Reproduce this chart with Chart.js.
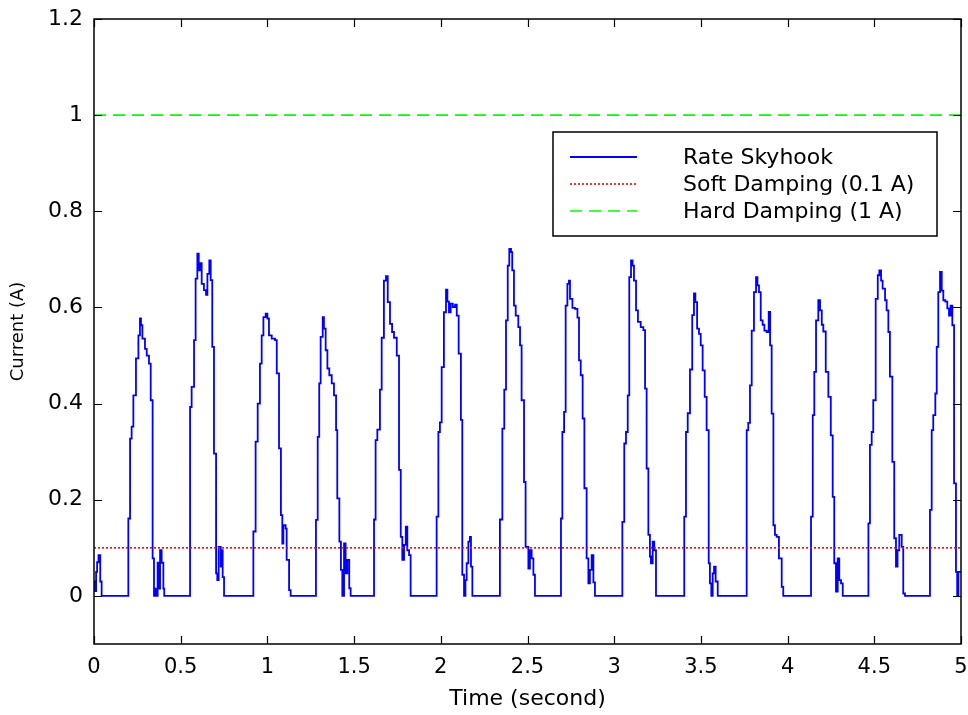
<!DOCTYPE html>
<html>
<head>
<meta charset="utf-8">
<script src="https://cdn.jsdelivr.net/npm/chart.js@4.4.1/dist/chart.umd.min.js"></script>
<style>
  body { margin: 0; background: #fff; }
  canvas { display: block; }
</style>
</head>
<body>
<canvas id="currentChart" width="968" height="715"></canvas>
<script>
// Rate skyhook control current (stairs)
const timeS = [
  0, 0.006, 0.012, 0.018, 0.026, 0.036, 0.044,
  0.198, 0.208, 0.217, 0.227, 0.242, 0.256, 0.265, 0.271, 0.279, 0.294, 0.304, 0.317, 0.327, 0.338, 0.346, 0.352, 0.361, 0.367, 0.375, 0.381, 0.390, 0.400, 0.405,
  0.554, 0.563, 0.577, 0.586, 0.596, 0.604, 0.611, 0.621, 0.634, 0.646, 0.654, 0.665, 0.673, 0.682, 0.692, 0.704, 0.711, 0.719, 0.731, 0.736, 0.742, 0.750,
  0.919, 0.932, 0.944, 0.957, 0.967, 0.977, 0.990, 1.000, 1.009, 1.025, 1.044, 1.054, 1.067, 1.078, 1.086, 1.092, 1.105, 1.111, 1.125, 1.134,
  1.280, 1.290, 1.299, 1.307, 1.319, 1.326, 1.336, 1.346, 1.357, 1.371, 1.384, 1.396, 1.403, 1.415, 1.424, 1.432, 1.442, 1.451, 1.461, 1.472, 1.480,
  1.615, 1.624, 1.634, 1.649, 1.659, 1.672, 1.684, 1.694, 1.707, 1.719, 1.730, 1.746, 1.759, 1.769, 1.778, 1.788, 1.798, 1.807, 1.817, 1.826,
  1.976, 1.986, 1.995, 2.005, 2.018, 2.030, 2.038, 2.047, 2.057, 2.069, 2.082, 2.092, 2.103, 2.116, 2.124, 2.134, 2.142, 2.149, 2.159, 2.168, 2.174, 2.182,
  2.341, 2.355, 2.366, 2.376, 2.386, 2.395, 2.405, 2.412, 2.422, 2.432, 2.447, 2.457, 2.466, 2.480, 2.489, 2.505, 2.514, 2.524, 2.534, 2.543,
  2.693, 2.701, 2.711, 2.720, 2.730, 2.739, 2.745, 2.759, 2.774, 2.788, 2.797, 2.807, 2.818, 2.828, 2.841, 2.851, 2.860, 2.870, 2.880, 2.889,
  3.047, 3.058, 3.068, 3.078, 3.087, 3.097, 3.106, 3.114, 3.126, 3.137, 3.153, 3.168, 3.178, 3.187, 3.197, 3.206, 3.212, 3.222, 3.231, 3.241,
  3.404, 3.414, 3.424, 3.437, 3.450, 3.460, 3.468, 3.478, 3.489, 3.499, 3.510, 3.522, 3.533, 3.545, 3.552, 3.560, 3.568, 3.576, 3.585, 3.597,
  3.764, 3.773, 3.783, 3.793, 3.806, 3.818, 3.826, 3.835, 3.845, 3.856, 3.866, 3.879, 3.891, 3.899, 3.908, 3.918, 3.927, 3.937, 3.950, 3.966, 3.975,
  4.135, 4.145, 4.154, 4.164, 4.177, 4.187, 4.197, 4.206, 4.220, 4.235, 4.249, 4.260, 4.269, 4.279, 4.289, 4.298, 4.308, 4.318,
  4.466, 4.475, 4.485, 4.494, 4.508, 4.520, 4.529, 4.539, 4.548, 4.562, 4.571, 4.581, 4.590, 4.604, 4.615, 4.625, 4.634, 4.644, 4.658, 4.667, 4.677,
  4.821, 4.831, 4.840, 4.852, 4.860, 4.869, 4.879, 4.889, 4.898, 4.910, 4.921, 4.931, 4.940, 4.950, 4.960, 4.971, 4.978, 4.985, 5.000
];
const currentA = [
  0.03, 0.01, 0.05, 0.07, 0.085, 0.03, 0,
  0.161, 0.327, 0.352, 0.417, 0.494, 0.542, 0.577, 0.563, 0.535, 0.514, 0.500, 0.483, 0.407, 0.078, 0, 0.015, 0, 0.069, 0.015, 0.095, 0.069, 0.015, 0,
  0.393, 0.435, 0.532, 0.660, 0.712, 0.677, 0.692, 0.649, 0.636, 0.626, 0.670, 0.698, 0.657, 0.518, 0.296, 0.047, 0.033, 0.102, 0.061, 0.095, 0.039, 0,
  0.134, 0.321, 0.400, 0.483, 0.542, 0.580, 0.587, 0.577, 0.542, 0.535, 0.532, 0.463, 0.307, 0.168, 0.109, 0.147, 0.140, 0.075, 0.012, 0,
  0.158, 0.331, 0.442, 0.539, 0.580, 0.556, 0.511, 0.473, 0.459, 0.442, 0.417, 0.345, 0.203, 0.113, 0.054, 0, 0.109, 0.047, 0.075, 0.016, 0,
  0.159, 0.324, 0.346, 0.429, 0.537, 0.656, 0.665, 0.611, 0.566, 0.549, 0.537, 0.500, 0.262, 0.123, 0.075, 0.106, 0.144, 0.095, 0.085, 0,
  0.165, 0.341, 0.361, 0.476, 0.590, 0.637, 0.612, 0.590, 0.608, 0.601, 0.606, 0.583, 0.504, 0.366, 0.044, 0, 0.033, 0.068, 0.113, 0.123, 0.061, 0,
  0.159, 0.348, 0.429, 0.573, 0.687, 0.722, 0.715, 0.677, 0.604, 0.583, 0.559, 0.521, 0.407, 0.237, 0.102, 0.057, 0.095, 0.078, 0.044, 0,
  0.161, 0.341, 0.383, 0.604, 0.649, 0.656, 0.618, 0.599, 0.597, 0.579, 0.490, 0.459, 0.369, 0.224, 0.078, 0.026, 0.054, 0.085, 0.028, 0,
  0.154, 0.317, 0.341, 0.417, 0.663, 0.698, 0.687, 0.656, 0.594, 0.570, 0.559, 0.553, 0.431, 0.265, 0.127, 0.082, 0.068, 0.113, 0.095, 0,
  0.165, 0.341, 0.380, 0.471, 0.584, 0.629, 0.611, 0.556, 0.545, 0.521, 0.469, 0.414, 0.345, 0.068, 0.026, 0, 0.047, 0.061, 0.030, 0,
  0.345, 0.360, 0.438, 0.552, 0.632, 0.663, 0.646, 0.632, 0.573, 0.564, 0.552, 0.549, 0.591, 0.521, 0.379, 0.147, 0.127, 0.123, 0.078, 0.019, 0,
  0.165, 0.376, 0.466, 0.573, 0.615, 0.594, 0.564, 0.550, 0.466, 0.414, 0.334, 0.206, 0.068, 0.009, 0.078, 0.033, 0.026, 0,
  0.151, 0.314, 0.341, 0.407, 0.618, 0.667, 0.677, 0.656, 0.639, 0.615, 0.594, 0.549, 0.456, 0.279, 0.120, 0.061, 0.095, 0.127, 0.102, 0.005, 0,
  0.179, 0.345, 0.376, 0.421, 0.518, 0.632, 0.674, 0.635, 0.615, 0.612, 0.598, 0.583, 0.604, 0.563, 0.234, 0.050, 0, 0.050, 0.050
];

// constant reference levels
const refTimes = [0, 5];
const softDamping = [0.1, 0.1];
const hardDamping = [1, 1];

const xTicks = [0, 0.5, 1, 1.5, 2, 2.5, 3, 3.5, 4, 4.5, 5];
const yTicks = [0, 0.2, 0.4, 0.6, 0.8, 1, 1.2];

const FONT = "'DejaVu Sans', Verdana, sans-serif";

function toPoints(xs, ys) {
  return xs.map((x, i) => ({ x: x, y: ys[i] }));
}

// box round the plot with inward ticks on all four sides
const frameTicks = {
  id: "frameTicks",
  afterDraw(chart) {
    const { ctx, chartArea: a, scales } = chart;
    const len = 8;
    ctx.save();
    ctx.strokeStyle = "#000";
    ctx.lineWidth = 1.5;
    ctx.strokeRect(a.left, a.top, a.right - a.left, a.bottom - a.top);
    ctx.lineWidth = 1.2;
    ctx.beginPath();
    xTicks.forEach(v => {
      const px = Math.round(scales.x.getPixelForValue(v)) + 0.5;
      ctx.moveTo(px, a.bottom); ctx.lineTo(px, a.bottom - len);
      ctx.moveTo(px, a.top); ctx.lineTo(px, a.top + len);
    });
    yTicks.forEach(v => {
      const py = Math.round(scales.y.getPixelForValue(v)) + 0.5;
      ctx.moveTo(a.left, py); ctx.lineTo(a.left + len, py);
      ctx.moveTo(a.right, py); ctx.lineTo(a.right - len, py);
    });
    ctx.stroke();
    ctx.restore();
  }
};

// legend box inside the plot, top right
const boxLegend = {
  id: "boxLegend",
  afterDraw(chart) {
    const { ctx } = chart;
    const box = { x: 553, y: 132, w: 384, h: 104 };
    ctx.save();
    ctx.fillStyle = "#fff";
    ctx.fillRect(box.x, box.y, box.w, box.h);
    ctx.strokeStyle = "#000";
    ctx.lineWidth = 1.5;
    ctx.strokeRect(box.x, box.y, box.w, box.h);
    ctx.font = "22px " + FONT;
    ctx.textBaseline = "middle";
    ctx.fillStyle = "#000";
    const rows = [157, 184, 211];
    chart.data.datasets.forEach((ds, i) => {
      const y = rows[i];
      ctx.beginPath();
      ctx.strokeStyle = ds.borderColor;
      ctx.lineWidth = ds.borderWidth;
      ctx.setLineDash(ds.borderDash || []);
      ctx.moveTo(570, y);
      ctx.lineTo(637, y);
      ctx.stroke();
      ctx.setLineDash([]);
      ctx.fillText(ds.label, 683, y + 1);
    });
    ctx.restore();
  }
};

const ctx = document.getElementById("currentChart").getContext("2d");
new Chart(ctx, {
  type: "line",
  data: {
    datasets: [
      {
        label: "Rate Skyhook",
        data: toPoints(timeS, currentA),
        borderColor: "#0000ff",
        borderWidth: 1.8,
        stepped: true,
        pointRadius: 0,
        order: 3
      },
      {
        label: "Soft Damping (0.1 A)",
        data: toPoints(refTimes, softDamping),
        borderColor: "#ff0000",
        borderWidth: 1.6,
        borderDash: [2, 2],
        pointRadius: 0,
        order: 2
      },
      {
        label: "Hard Damping (1 A)",
        data: toPoints(refTimes, hardDamping),
        borderColor: "#00ff00",
        borderWidth: 1.6,
        borderDash: [12, 7],
        pointRadius: 0,
        order: 1
      }
    ]
  },
  options: {
    responsive: false,
    animation: false,
    layout: { padding: { top: 19, right: 7, left: 0, bottom: 0 } },
    plugins: {
      legend: { display: false },
      tooltip: { enabled: false }
    },
    scales: {
      x: {
        type: "linear",
        min: 0,
        max: 5,
        afterBuildTicks: s => { s.ticks = xTicks.map(v => ({ value: v })); },
        afterFit: s => { s.height = 71; s.paddingLeft = 0; s.paddingRight = 0; },
        grid: { display: false, drawTicks: false },
        border: { display: false },
        ticks: {
          color: "#000",
          font: { family: FONT, size: 21 },
          padding: 11,
          maxRotation: 0,
          autoSkip: false,
          callback: v => String(+v.toFixed(2))
        },
        title: {
          display: true,
          text: "Time (second)",
          color: "#000",
          font: { family: FONT, size: 22 },
          padding: { top: 0, bottom: 3 }
        }
      },
      y: {
        min: -0.1,
        max: 1.2,
        afterBuildTicks: s => { s.ticks = yTicks.map(v => ({ value: v })); },
        afterFit: s => { s.width = 94; s.paddingTop = 0; s.paddingBottom = 0; },
        grid: { display: false, drawTicks: false },
        border: { display: false },
        ticks: {
          color: "#000",
          font: { family: FONT, size: 22 },
          padding: 11,
          autoSkip: false,
          callback: v => String(+v.toFixed(2))
        },
        title: {
          display: true,
          text: "Current (A)",
          color: "#000",
          font: { family: FONT, size: 18 },
          padding: { top: 8, bottom: 0 }
        }
      }
    }
  },
  plugins: [frameTicks, boxLegend]
});
</script>
</body>
</html>
